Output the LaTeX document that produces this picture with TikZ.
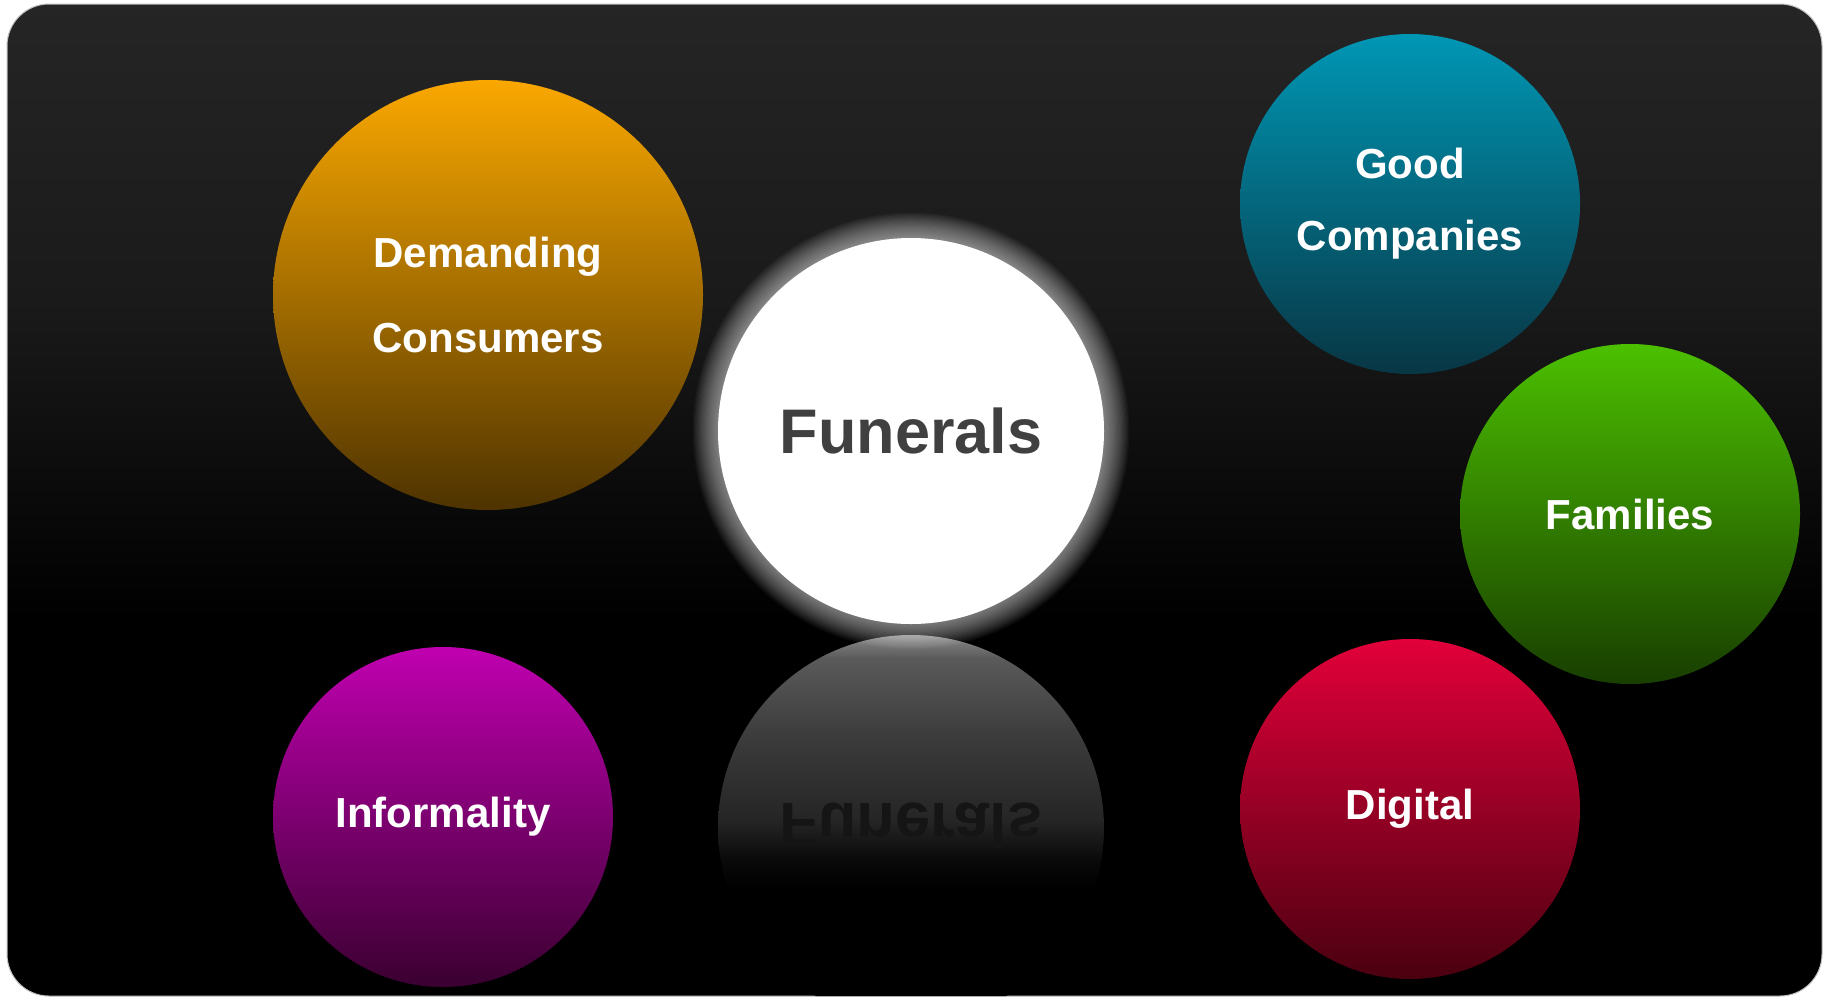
\documentclass[tikz,border=0pt]{standalone}
\usepackage{fontspec}
\setmainfont{Liberation Sans}
\usepackage{xcolor}
\definecolor{bgtop}{HTML}{252525}
\definecolor{bgmid}{HTML}{1A1A1A}
\definecolor{amber}{HTML}{FAA800}
\definecolor{ambermid}{HTML}{E09200}
\definecolor{amberdark}{HTML}{4E3300}
\definecolor{petrol}{HTML}{0097B5}
\definecolor{petrolmid}{HTML}{007C91}
\definecolor{petroldark}{HTML}{083644}
\definecolor{leaf}{HTML}{4CC000}
\definecolor{leafmid}{HTML}{3C9C00}
\definecolor{leafdark}{HTML}{183E00}
\definecolor{crimson}{HTML}{E2003A}
\definecolor{crimsonmid}{HTML}{C8002F}
\definecolor{crimsondark}{HTML}{4A0010}
\definecolor{plum}{HTML}{C000B0}
\definecolor{plummid}{HTML}{A00094}
\definecolor{plumdark}{HTML}{3A0030}
\definecolor{funtext}{HTML}{404040}
\definecolor{refltext}{HTML}{151515}
\definecolor{refltop}{HTML}{8A8A8A}
\definecolor{reflhigh}{HTML}{5A5A5A}
\definecolor{reflmid}{HTML}{3C3C3C}
\definecolor{refllow}{HTML}{252525}
\definecolor{reflend}{HTML}{0A0A0A}

\pgfdeclareverticalshading{bgshade}{100bp}{color(0bp)=(black); color(44bp)=(black); color(60bp)=(bgmid); color(75bp)=(bgtop); color(100bp)=(bgtop)}
\pgfdeclareverticalshading{reflshade}{100bp}{color(0bp)=(black); color(42bp)=(black); color(46bp)=(reflend); color(51bp)=(refllow); color(62bp)=(reflmid); color(72bp)=(reflhigh); color(75bp)=(refltop); color(100bp)=(refltop)}

\begin{document}
\begin{tikzpicture}[
    x=1pt, y=-1pt,
    bubble/.style={circle, minimum size=340pt, inner sep=0pt, text=white, align=center, font=\fontsize{42}{72}\selectfont\bfseries},
    hub/.style={circle, minimum size=386pt, inner sep=0pt, fill=white, text=funtext, font=\fontsize{63}{63}\selectfont\bfseries}
]

% Backdrop
\fill[white] (0,0) rectangle (1827,997);
\shadedraw[shading=bgshade, draw=black!25, line width=1pt, rounded corners=42pt] (7,4) rectangle (1822,996);

% Reflection
\begin{scope}
    \clip[rounded corners=42pt] (7,4) rectangle (1822,996);
    \shade[shading=reflshade] (911,828) circle[radius=193];
    \begin{scope}[shift={(911,826)}, yscale=-1]
        \node[transform shape, text=refltext, font=\fontsize{63}{63}\selectfont\bfseries] (refl) at (0,0) {Funerals};
    \end{scope}
\end{scope}

% Glow
\foreach \i in {1,...,22} {
    \fill[white, opacity=0.03] (911,431) circle[radius=192+1.2*\i];
}

% Centre
\node[hub] (fun) at (911,431) {Funerals};

% Bubbles
\node[bubble, minimum size=430pt, font=\fontsize{42}{85}\selectfont\bfseries,
      top color=amber, middle color=ambermid, bottom color=amberdark] (dem) at (488,295) {Demanding\\Consumers};
\node[bubble, top color=petrol, middle color=petrolmid, bottom color=petroldark] (good) at (1410,204) {Good\\Companies};
\node[bubble, top color=leaf, middle color=leafmid, bottom color=leafdark] (fam) at (1630,514) {Families};
\node[bubble, top color=crimson, middle color=crimsonmid, bottom color=crimsondark] (dig) at (1410,809) {Digital};
\node[bubble, top color=plum, middle color=plummid, bottom color=plumdark] (inf) at (443,817) {Informality};

\end{tikzpicture}
\end{document}
